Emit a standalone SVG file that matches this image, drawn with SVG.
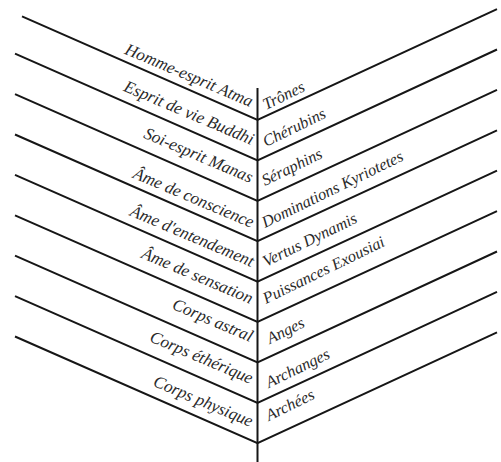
<svg xmlns="http://www.w3.org/2000/svg" width="501" height="462" viewBox="0 0 501 462">
<style>
.ln{fill:none;stroke:#161616;stroke-width:2;stroke-linejoin:miter}
.t{font-family:"Liberation Serif","Times New Roman",serif;font-style:italic;font-size:16.3px;fill:#2a2a2a}
.l{text-anchor:end;font-size:17px}
</style>
<rect width="501" height="462" fill="#ffffff"/>
<g id="connectors">
<path class="ln" d="M257.5 88 V462"/>
<path class="ln" d="M22 16.4 L257.5 120 L497 9.1"/>
<path class="ln" d="M15 53.7 L257.5 160.4 L497 49.5"/>
<path class="ln" d="M15 94.1 L257.5 200.8 L497 89.9"/>
<path class="ln" d="M15 134.5 L257.5 241.2 L497 130.3"/>
<path class="ln" d="M15 174.9 L257.5 281.6 L497 170.7"/>
<path class="ln" d="M15 215.3 L257.5 322 L497 211.1"/>
<path class="ln" d="M15 255.7 L257.5 362.4 L497 251.5"/>
<path class="ln" d="M15 296.1 L257.5 402.8 L497 291.9"/>
<path class="ln" d="M15 336.5 L257.5 443.2 L497 332.3"/>
</g>
<g id="left-labels" font-style="italic" text-anchor="end">
<g id="l1" transform="rotate(23 250 107)"><text class="t l" x="250" y="107">Homme-esprit Atma</text></g>
<g id="l2" transform="rotate(23 251 145)"><text class="t l" x="251" y="145">Esprit de vie Buddhi</text></g>
<g id="l3" transform="rotate(23 250 183)"><text class="t l" x="250" y="183">Soi-esprit Manas</text></g>
<g id="l4" transform="rotate(23 251 228)"><text class="t l" x="251" y="228">Âme de conscience</text></g>
<g id="l5" transform="rotate(23 251 267)"><text class="t l" x="251" y="267">Âme d'entendement</text></g>
<g id="l6" transform="rotate(23 250 304)"><text class="t l" x="250" y="304">Âme de sensation</text></g>
<g id="l7" transform="rotate(23 250 342)"><text class="t l" x="250" y="342">Corps astral</text></g>
<g id="l8" transform="rotate(23 250 384)"><text class="t l" x="250" y="384">Corps éthérique</text></g>
<g id="l9" transform="rotate(23 250 427)"><text class="t l" x="250" y="427">Corps physique</text></g>
</g>
<g id="right-labels" font-style="italic">
<g id="r1" transform="rotate(-26 266 110)"><text class="t" x="266" y="110">Trônes</text></g>
<g id="r2" transform="rotate(-26 266 147)"><text class="t" x="266" y="147">Chérubins</text></g>
<g id="r3" transform="rotate(-26 265 186)"><text class="t" x="265" y="186">Séraphins</text></g>
<g id="r4" transform="rotate(-26 265 228)"><text class="t" x="265" y="228">Dominations Kyriotetes</text></g>
<g id="r5" transform="rotate(-26 266 267)"><text class="t" x="266" y="267">Vertus Dynamis</text></g>
<g id="r6" transform="rotate(-26 266 304)"><text class="t" x="266" y="304">Puissances Exousiai</text></g>
<g id="r7" transform="rotate(-26 270 344)"><text class="t" x="270" y="344">Anges</text></g>
<g id="r8" transform="rotate(-26 269 388)"><text class="t" x="269" y="388">Archanges</text></g>
<g id="r9" transform="rotate(-26 269 421)"><text class="t" x="269" y="421">Archées</text></g>
</g>
</svg>
